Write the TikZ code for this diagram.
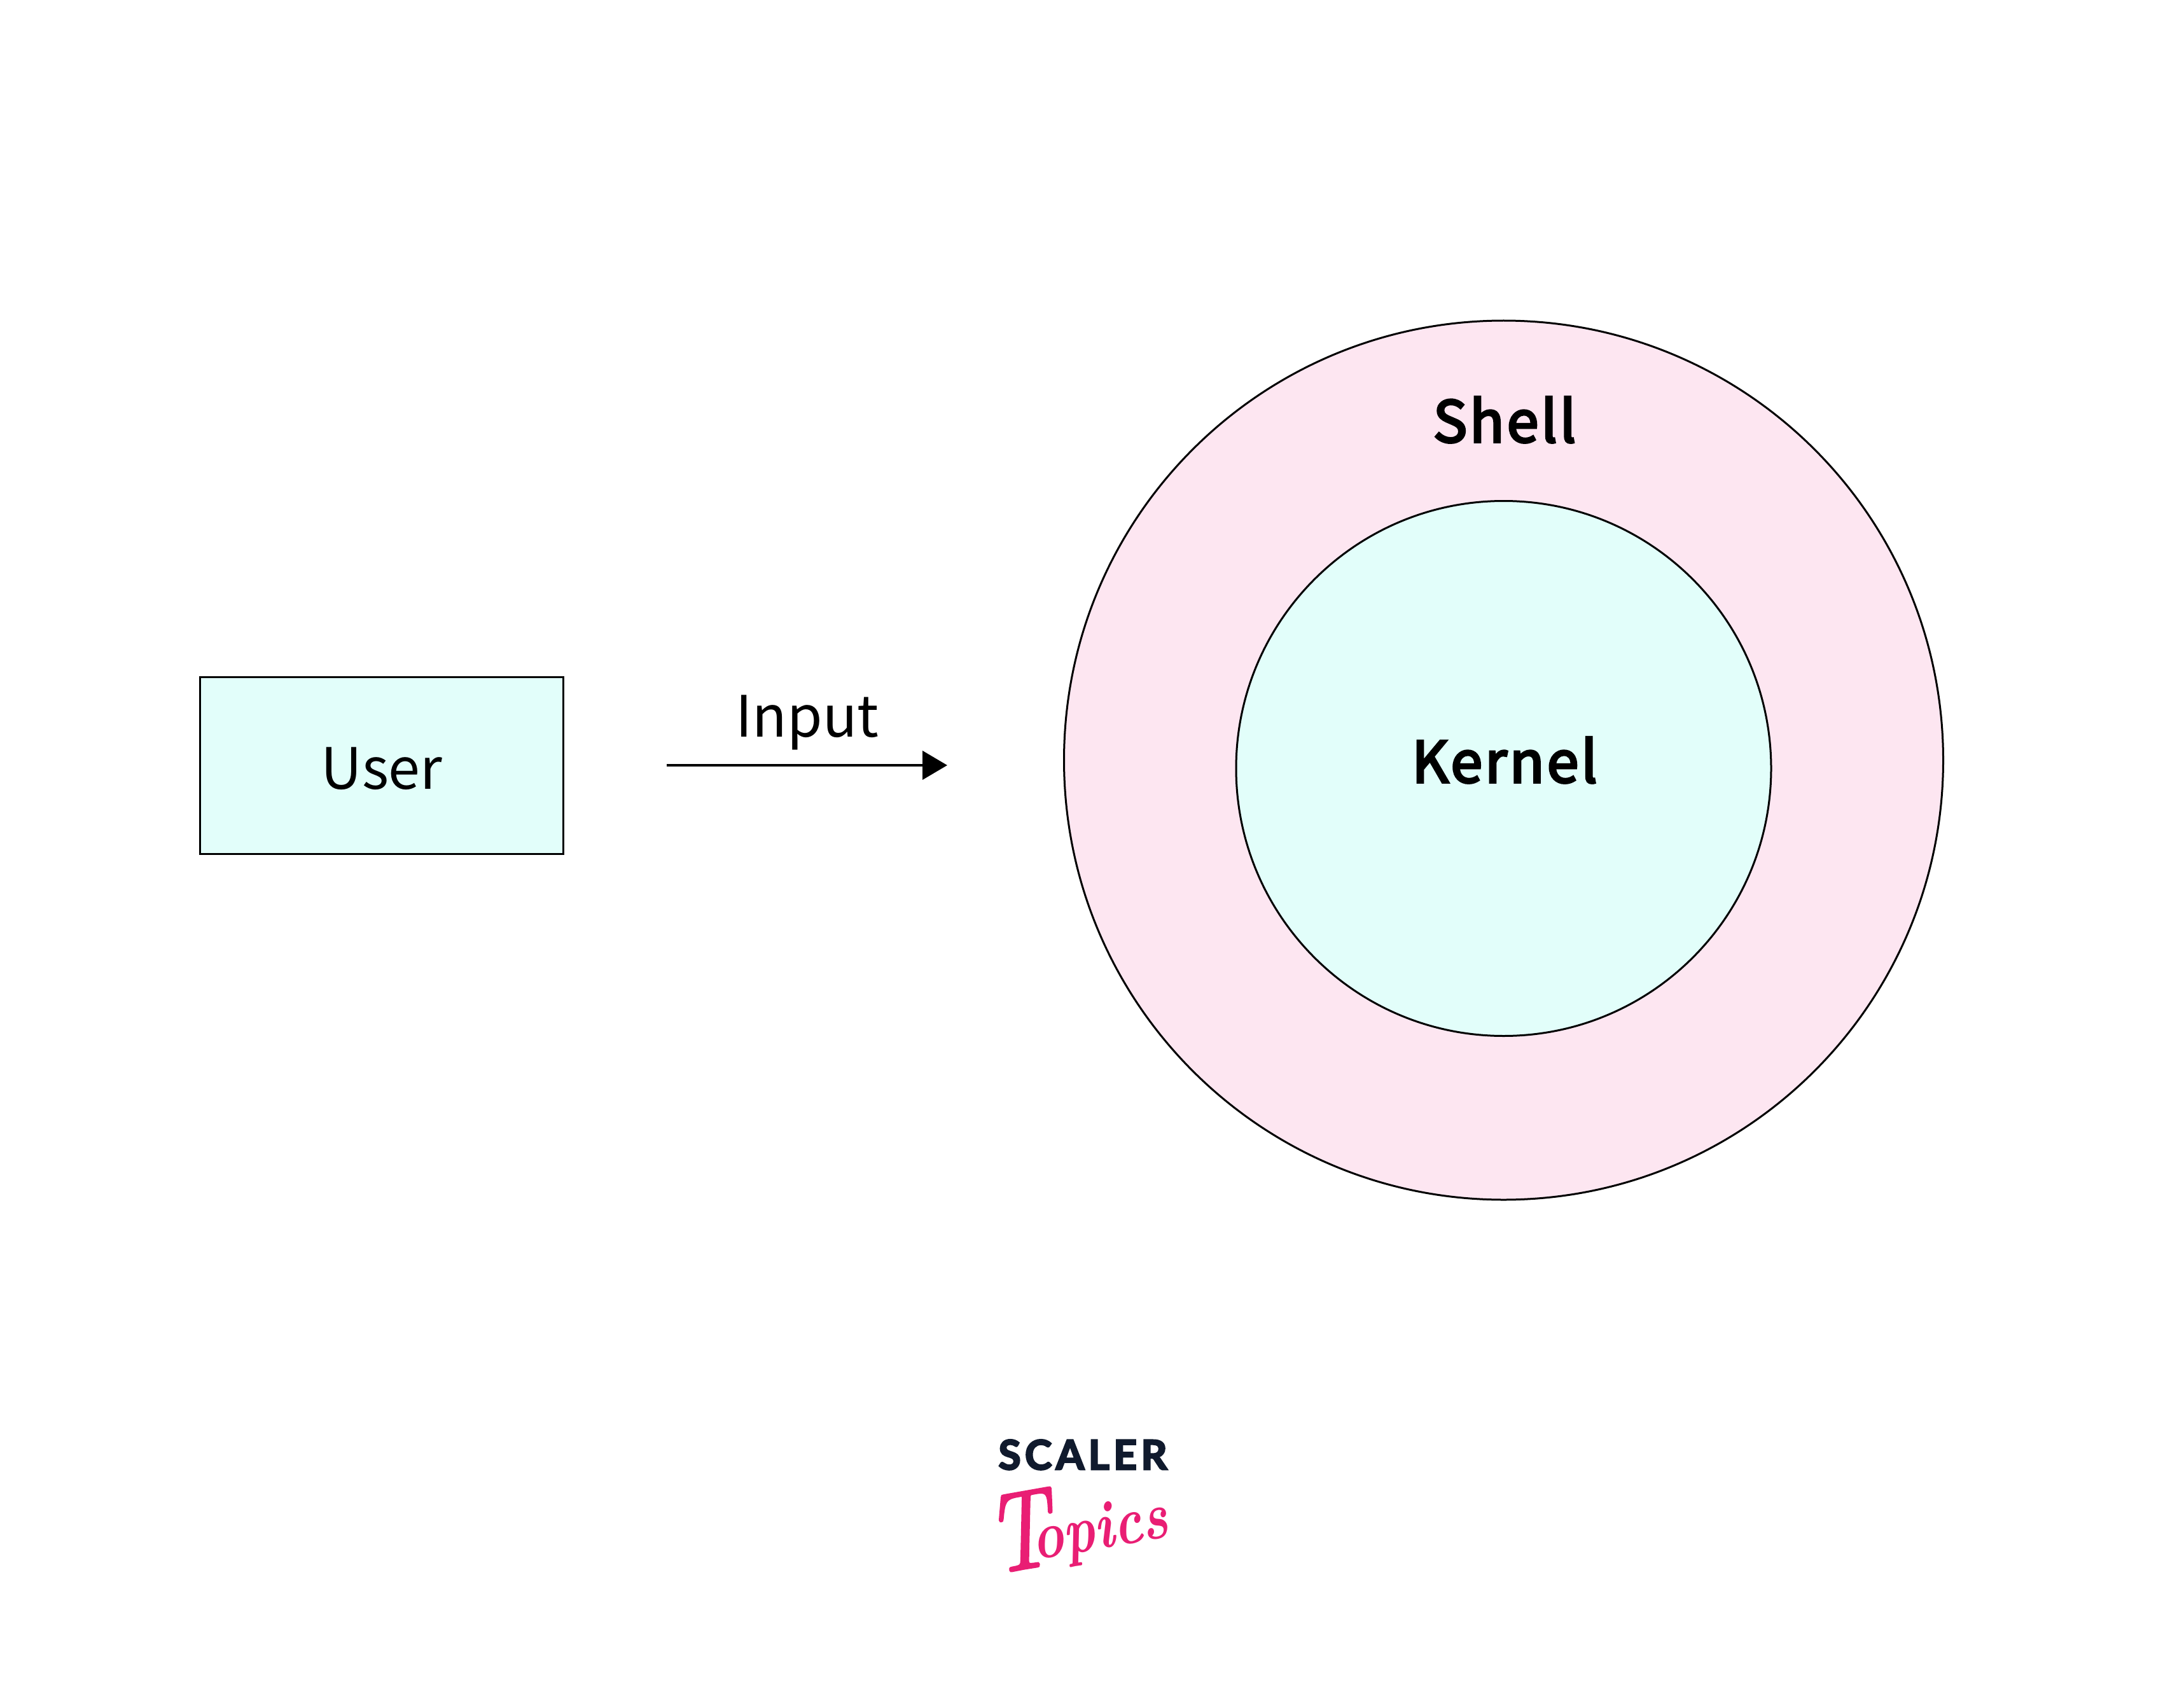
\documentclass[tikz,border=0pt]{standalone}
\usepackage{fontspec}
\setmainfont[BoldFont={Noto Sans CJK SC}, BoldFeatures={FakeBold=4, LetterSpace=4.5}]{Noto Sans CJK SC}
\newfontfamily\logofont[BoldFeatures={FakeBold=4}]{Lato}
\newfontfamily\handfont[FakeStretch=0.8]{Latin Modern Roman}
\usepackage{xcolor}
\usetikzlibrary{positioning, arrows.meta}
\usetikzlibrary{shapes,shapes.geometric}
\definecolor{shellpink}{HTML}{FDE6F1}
\definecolor{kernelmint}{HTML}{E2FEFA}
\definecolor{logonavy}{HTML}{101A2D}
\definecolor{logopink}{HTML}{E91E74}
\tikzset{
	part/.style = {draw, line width = 0.03cm, outer sep = 0pt, inner sep = 0pt},
	caption/.style = {font = \fontsize{25.5}{30}\selectfont, anchor = base, inner sep = 0pt},
	heading/.style = {caption, font = \fontsize{25.5}{30}\selectfont\bfseries}
}

\begin{document}
\begin{tikzpicture}[-{Triangle[length = 0.39cm, width = 0.45cm]}, line width = 0.04cm]
			\useasboundingbox (0,0) rectangle (34,-26.85);
			\node[part, -, rectangle, fill = kernelmint, minimum width = 5.71cm, minimum height = 2.78cm] (user) at (5.995,-12.03) {};
			\node[part, -, circle, fill = shellpink, minimum size = 13.82cm] (shell) at (23.635,-11.95) {};
			\node[part, -, circle, fill = kernelmint, minimum size = 8.41cm] (kernel) at (23.635,-12.08) {};
			\node[caption] (usertext) at (6.0,-12.4) {User};
			\node[heading] (shelltext) at (23.65,-6.95) {Shell};
			\node[heading] (kerneltext) at (23.65,-12.3) {Kernel};
			
			\coordinate (inputstart) at (10.48,-12.03);
			\coordinate (inputend) at (14.89,-12.03);
			\node[caption] (inputtext) at (12.69,-11.58) {Input};
			\draw (inputstart) -- (inputend);
			
			\node[anchor = base, inner sep = 0pt, text = logonavy, font = \logofont\fontsize{18.2}{20}\bfseries\selectfont] (scaler) at (17.02,-23.1) {\addfontfeature{LetterSpace=10}SCALER};
			\node[anchor = base west, inner sep = 0pt, text = logopink, rotate = 10, font = \handfont\itshape\fontsize{30}{30}\selectfont] (topics) at (15.6,-24.75) {{\addfontfeature{FakeBold=2}\fontsize{50}{50}\selectfont T}\hspace{-0.3cm}\raisebox{0.1cm}{\bfseries opics}};
		\end{tikzpicture}
\end{document}
